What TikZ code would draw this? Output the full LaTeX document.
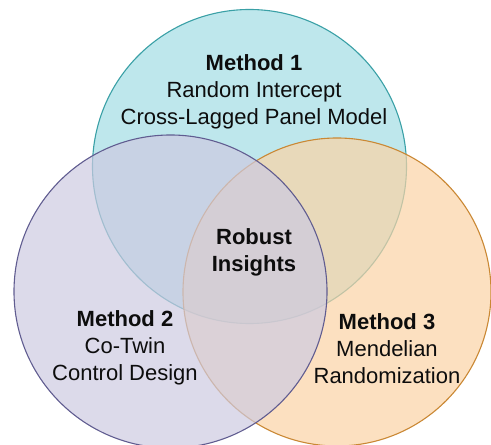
\documentclass[tikz,border=0pt]{standalone}
\usepackage{fontspec}
\setmainfont{Liberation Sans}
\usepackage{tikz}

\definecolor{rifill}{RGB}{162,221,228}
\definecolor{riline}{RGB}{58,160,166}
\definecolor{twfill}{RGB}{205,202,225}
\definecolor{twline}{RGB}{96,92,144}
\definecolor{mrfill}{RGB}{251,211,165}
\definecolor{mrline}{RGB}{202,136,52}

\begin{document}
\begin{tikzpicture}[x=1pt, y=1pt,
		venn/.style={line width=1.1pt, fill opacity=0.7},
		label/.style={align=center, font=\fontsize{22}{27}\selectfont, text=black!95}]
			%%%%% START %%%%%
			\useasboundingbox (0, 0) rectangle (491, 445);
			
			\draw[venn, draw=riline, fill=rifill] (249.5, 278.5) circle (157);
			\draw[venn, draw=mrline, fill=mrfill] (337, 153) circle (154);
			\draw[venn, draw=twline, fill=twfill] (170.5, 153.5) circle (156.5);
			
			\node[label] (riclpm) at (254, 353.5) {\textbf{Method 1}\\Random Intercept\\Cross-Lagged Panel Model};
			\node[label] (cotwin) at (125, 96.7) {\textbf{Method 2}\\Co-Twin\\Control Design};
			\node[label] (mendel) at (387, 96.7) {\textbf{Method 3}\\Mendelian\\Randomization};
			\node[label, font=\fontsize{22}{27}\selectfont\bfseries] (robust) at (254, 192.7) {Robust\\Insights};
			%%%%% END %%%%%
		\end{tikzpicture}
\end{document}
